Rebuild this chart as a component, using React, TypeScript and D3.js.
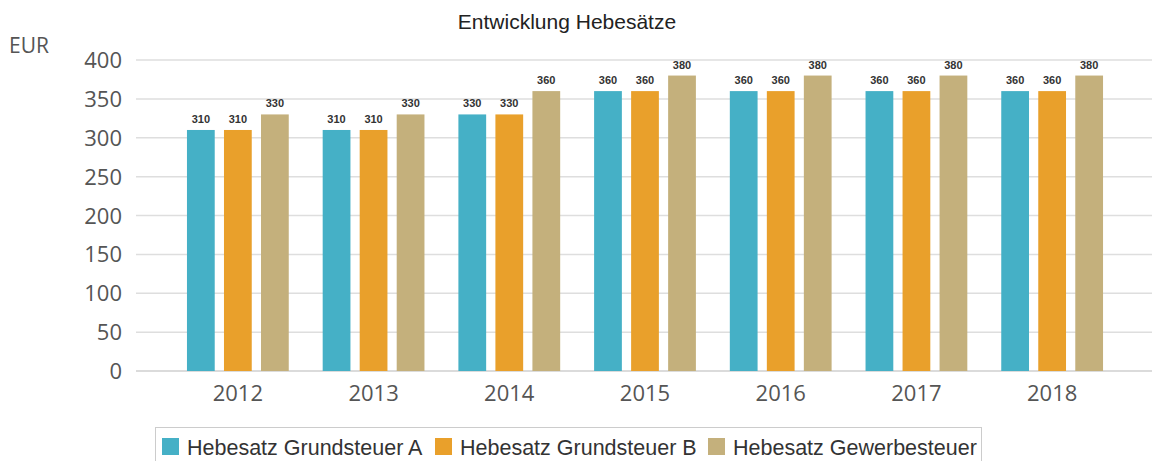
import { useEffect, useRef } from "react";
import * as d3 from "d3";

const years = ["2012", "2013", "2014", "2015", "2016", "2017", "2018"];
const seriesNames = [
  "Hebesatz Grundsteuer A",
  "Hebesatz Grundsteuer B",
  "Hebesatz Gewerbesteuer",
];
const grundsteuerA = [310, 310, 330, 360, 360, 360, 360];
const grundsteuerB = [310, 310, 330, 360, 360, 360, 360];
const gewerbesteuer = [330, 330, 360, 380, 380, 380, 380];
const yTicks = [0, 50, 100, 150, 200, 250, 300, 350, 400];
const colors = ["#45b0c6", "#e9a02b", "#c4b07c"];

const W = 1152;
const H = 461;

export default function App() {
  const ref = useRef<SVGSVGElement>(null);

  useEffect(() => {
    draw();
  });

  function draw() {
    const svg = d3.select(ref.current);
    svg.selectAll("*").remove();

    const series = [grundsteuerA, grundsteuerB, gewerbesteuer];

    // scales
    const x0 = d3
      .scaleBand()
      .domain(years)
      .range([170, 1120])
      .paddingInner(0.25)
      .paddingOuter(0.125);
    const x1 = d3
      .scaleBand()
      .domain(seriesNames)
      .range([0, x0.bandwidth()])
      .paddingInner(0.25);
    const y = d3.scaleLinear().domain([0, 400]).range([371, 60]);

    // gridlines
    svg
      .append("g")
      .selectAll("line")
      .data(yTicks)
      .enter()
      .append("line")
      .attr("x1", 136)
      .attr("x2", W)
      .attr("y1", (d) => y(d))
      .attr("y2", (d) => y(d))
      .attr("stroke", (d) => (d === 0 ? "#cfcfcf" : "#dedede"))
      .attr("stroke-width", 1.5);

    // y tick labels
    svg
      .append("g")
      .selectAll("text")
      .data(yTicks)
      .enter()
      .append("text")
      .attr("x", 122)
      .attr("y", (d) => y(d) + 8)
      .attr("text-anchor", "end")
      .attr("font-family", "Open Sans")
      .attr("font-size", 22)
      .attr("fill", "#555")
      .text((d) => d);

    svg
      .append("text")
      .attr("x", 9)
      .attr("y", 53)
      .attr("font-family", "Open Sans")
      .attr("font-size", 21)
      .attr("fill", "#555")
      .text("EUR");

    // title
    svg
      .append("text")
      .attr("x", 567)
      .attr("y", 29)
      .attr("text-anchor", "middle")
      .attr("font-family", "Liberation Sans")
      .attr("font-size", 21)
      .attr("fill", "#222")
      .text("Entwicklung Hebesätze");

    // bars
    const groups = svg
      .append("g")
      .selectAll("g")
      .data(years)
      .enter()
      .append("g")
      .attr("transform", (d) => "translate(" + x0(d) + ",0)");

    groups
      .selectAll("rect")
      .data((d, i) => series.map((s, k) => ({ name: seriesNames[k], value: s[i], k })))
      .enter()
      .append("rect")
      .attr("x", (d) => x1(d.name)!)
      .attr("y", (d) => y(d.value))
      .attr("width", x1.bandwidth())
      .attr("height", (d) => y(0) - y(d.value))
      .attr("fill", (d) => colors[d.k]);

    groups
      .selectAll("text")
      .data((d, i) => series.map((s, k) => ({ name: seriesNames[k], value: s[i], k })))
      .enter()
      .append("text")
      .attr("x", (d) => x1(d.name)! + x1.bandwidth() / 2)
      .attr("y", (d) => y(d.value) - 7)
      .attr("text-anchor", "middle")
      .attr("font-family", "Liberation Sans")
      .attr("font-weight", 700)
      .attr("font-size", 11)
      .attr("fill", "#333")
      .text((d) => d.value);

    // x labels
    svg
      .append("g")
      .selectAll("text")
      .data(years)
      .enter()
      .append("text")
      .attr("x", (d) => x0(d)! + x0.bandwidth() / 2)
      .attr("y", 401)
      .attr("text-anchor", "middle")
      .attr("font-family", "Open Sans")
      .attr("font-size", 22)
      .attr("fill", "#555")
      .text((d) => d);

    // legend
    const legendX = [162, 435, 708];
    svg
      .append("rect")
      .attr("x", 155.5)
      .attr("y", 427.5)
      .attr("width", 826)
      .attr("height", 40)
      .attr("fill", "white")
      .attr("stroke", "#cccccc");
    const items = svg
      .append("g")
      .selectAll("g")
      .data(seriesNames)
      .enter()
      .append("g")
      .attr("transform", (d, i) => "translate(" + legendX[i] + ",438)");
    items
      .append("rect")
      .attr("width", 17)
      .attr("height", 17)
      .attr("fill", (d, i) => colors[i]);
    items
      .append("text")
      .attr("x", 25)
      .attr("y", 17)
      .attr("font-family", "Liberation Sans")
      .attr("font-size", 21.5)
      .attr("fill", "#333")
      .text((d) => d);
  }

  return (
    <svg
      ref={ref}
      width={W}
      height={H}
      style={{ position: "absolute", left: 0, top: 0, background: "white" }}
    ></svg>
  );
}
